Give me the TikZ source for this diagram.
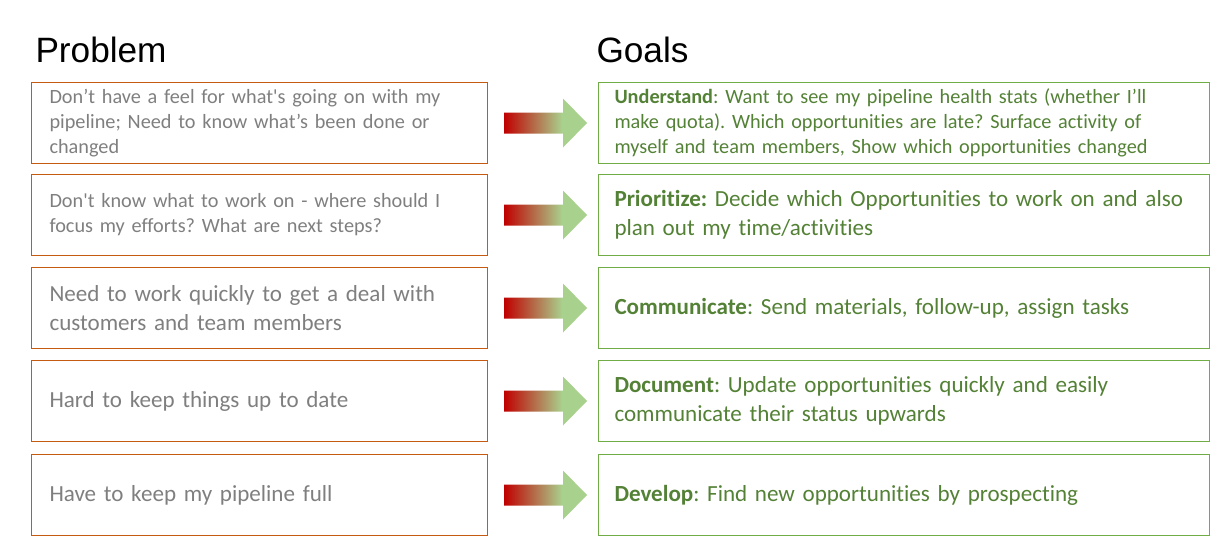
\documentclass[tikz,border=0pt]{standalone}
\usepackage{fontspec}
\setmainfont{Carlito}[Ligatures={NoCommon}]
\newfontfamily\titlefont{Liberation Sans}
\usetikzlibrary{calc}
\frenchspacing

\definecolor{probline}{HTML}{C55A11}
\definecolor{goalline}{HTML}{70AD47}
\definecolor{probtext}{HTML}{7F7F7F}
\definecolor{goaltext}{HTML}{538135}
\definecolor{arrred}{HTML}{C00000}
\definecolor{arrgreen}{HTML}{A9D18E}

\pgfdeclarehorizontalshading{redgreen}{100bp}{color(0bp)=(arrred); color(25bp)=(arrred); color(60bp)=(arrgreen); color(100bp)=(arrgreen)}

\tikzset{every picture/.style={line width=0.75pt}}
\tikzset{
  probbox/.style={draw=probline, text=probtext, anchor=north west, minimum width=342pt, minimum height=60.75pt, inner xsep=13.5pt, inner ysep=0pt, text width=315pt, align=left},
  goalbox/.style={draw=goalline, text=goaltext, anchor=north west, minimum width=458.25pt, minimum height=60.75pt, inner xsep=12pt, inner ysep=0pt, text width=434.25pt, align=left},
  smalltxt/.style={font=\fontsize{15.2pt}{18.75pt}\selectfont},
  bigtxt/.style={font=\fontsize{17.3pt}{21.75pt}\selectfont},
  headtxt/.style={font=\titlefont\fontsize{26.4pt}{32pt}\selectfont, anchor=base west, inner sep=0pt}
}

% block arrow from a problem box to its goal box
\newcommand{\gradarrow}[2]{%
  \shade[shading=redgreen] ($(#1.east)+(16,-10.5)$) -- ++(59,0) -- ++(0,-14) -- ($(#2.west)+(-11,0)$) -- ($(#1.east)+(75,24.5)$) -- ++(0,-14) -- ($(#1.east)+(16,10.5)$) -- cycle ;}

\begin{document}
\begin{tikzpicture}[x=0.75pt,y=0.75pt,yscale=-1,xscale=1]
\useasboundingbox (0,0) rectangle (1210,536);

% Text Node
\node[headtxt] (probhead) at (35,62) {Problem};
% Text Node
\node[headtxt] (goalhead) at (596,62) {Goals};

%Shape: Rectangle
\node[probbox, smalltxt] (prob1) at (31,82) {Don’t have a feel for what\textquotesingle s going on with my\\pipeline; Need to know what’s been done or\\changed};
%Shape: Rectangle
\node[probbox, smalltxt] (prob2) at (31,174) {Don\textquotesingle t know what to work on - where should I\\focus my efforts? What are next steps?};
%Shape: Rectangle
\node[probbox, bigtxt] (prob3) at (31,267) {Need to work quickly to get a deal with\\customers and team members};
%Shape: Rectangle
\node[probbox, bigtxt] (prob4) at (31,360) {Hard to keep things up to date};
%Shape: Rectangle
\node[probbox, bigtxt] (prob5) at (31,454) {Have to keep my pipeline full};

%Shape: Rectangle
\node[goalbox, smalltxt] (goal1) at (598,82) {\textbf{Understand}: Want to see my pipeline health stats (whether I’ll\\make quota). Which opportunities are late? Surface activity of\\myself and team members, Show which opportunities changed};
%Shape: Rectangle
\node[goalbox, bigtxt] (goal2) at (598,174) {\textbf{Prioritize:} Decide which Opportunities to work on and also\\plan out my time/activities};
%Shape: Rectangle
\node[goalbox, bigtxt] (goal3) at (598,267) {\textbf{Communicate}: Send materials, follow-up, assign tasks};
%Shape: Rectangle
\node[goalbox, bigtxt] (goal4) at (598,360) {\textbf{Document}: Update opportunities quickly and easily\\communicate their status upwards};
%Shape: Rectangle
\node[goalbox, bigtxt] (goal5) at (598,454) {\textbf{Develop}: Find new opportunities by prospecting};

%Shape: Right Arrow
\foreach \i in {1,...,5}{\gradarrow{prob\i}{goal\i}}

\end{tikzpicture}
\end{document}
